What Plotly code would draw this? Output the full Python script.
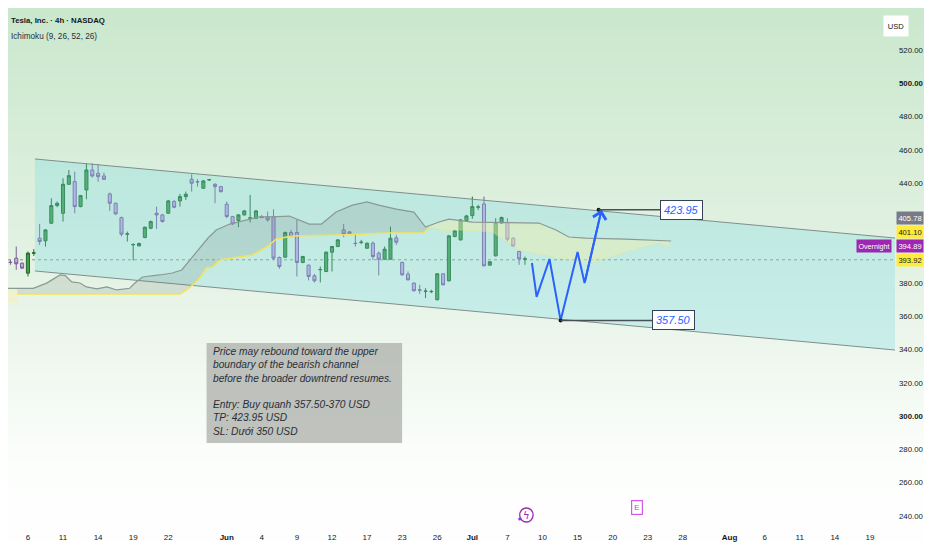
import numpy as np
import plotly.graph_objects as go

# 4h candles, x = bar index counted from the "6" tick (May 6)
bar_start = -5
opens = [394.9, 389.9, 392.5, 394.9, 391.9, 385.9, 397.9, 406.9, 405.3, 415.9,
         426.5, 421.9, 439.3, 440.9, 425.9, 435.9, 447.9, 445.9, 444.3, 433.5,
         427.9, 419.3, 409.3, 402.9, 402.3, 407.3, 412.9, 421.9, 420.9, 421.9,
         428.9, 429.3, 431.9, 442.3, 440.9, 436.9, 441.9, 439.3, 437.9, 427.3,
         419.9, 417.5, 420.9, 418.9, 418.9, 419.9, 419.9, 419.9, 395.3, 395.5,
         410.3, 410.3, 392.3, 390.7, 384.3, 387.9, 386.9, 398.5, 401.9, 411.9,
         410.7, 403.9, 404.3, 400.9, 403.9, 397.9, 394.3, 394.3, 407.1, 392.3,
         385.3, 379.9, 375.9, 374.9, 374.7, 369.9, 385.5, 381.3, 407.9, 405.9,
         417.5, 420.5, 425.5, 427.5, 390.7, 396.3, 415.9, 416.3, 406.9, 398.9,
         394.3]
highs = [395.9, 392.9, 393.9, 401.9, 392.3, 398.9, 400.3, 415.5, 412.3, 430.9,
         428.9, 442.9, 447.9, 446.9, 432.9, 451.9, 451.9, 451.5, 446.3, 434.3,
         428.3, 419.9, 410.9, 403.9, 404.3, 413.9, 417.5, 425.9, 421.5, 429.9,
         429.9, 433.5, 434.9, 445.3, 442.3, 441.9, 442.5, 439.9, 438.3, 428.9,
         420.3, 421.3, 423.9, 432.9, 423.9, 420.9, 422.9, 424.3, 395.9, 410.9,
         411.9, 417.9, 396.3, 391.1, 385.5, 389.9, 398.9, 402.3, 406.3, 415.5,
         411.1, 408.9, 405.9, 404.3, 404.9, 398.9, 401.9, 413.9, 408.9, 392.9,
         386.9, 380.3, 378.9, 376.9, 375.9, 385.9, 385.9, 408.7, 411.9, 418.3,
         420.9, 431.9, 426.9, 431.9, 393.1, 418.9, 419.9, 418.9, 407.5, 399.3,
         395.9]
lows = [389.9, 384.9, 390.9, 387.9, 388.3, 383.9, 396.3, 402.9, 401.9, 415.5,
        425.5, 416.9, 438.9, 421.9, 425.5, 430.3, 443.3, 440.9, 441.9, 423.3,
        420.9, 407.9, 404.9, 393.5, 401.9, 406.9, 412.3, 412.5, 416.3, 421.5,
        424.9, 425.9, 429.9, 434.9, 437.9, 436.5, 441.3, 427.9, 434.3, 418.9,
        414.9, 413.5, 420.5, 416.3, 418.5, 418.9, 416.9, 393.9, 388.5, 395.1,
        407.5, 383.9, 391.9, 381.5, 380.3, 380.3, 386.5, 386.9, 401.5, 407.5,
        409.1, 401.9, 403.3, 400.5, 393.9, 384.5, 393.9, 393.9, 402.9, 384.3,
        381.5, 374.9, 373.5, 370.9, 373.9, 369.5, 378.5, 380.9, 407.5, 405.5,
        417.1, 418.5, 423.9, 389.9, 390.3, 395.9, 415.5, 404.9, 401.9, 390.9,
        390.9]
closes = [390.9, 392.5, 392.3, 391.5, 388.9, 397.9, 398.1, 404.9, 411.9, 426.5,
          427.9, 439.3, 444.5, 425.9, 432.5, 447.9, 444.3, 443.9, 442.3, 427.9,
          421.5, 409.3, 409.5, 403.1, 403.7, 413.5, 416.9, 420.9, 416.9, 429.3,
          425.5, 431.9, 433.3, 439.9, 440.7, 441.3, 442.1, 437.9, 434.9, 419.9,
          415.5, 420.9, 423.3, 419.1, 423.3, 419.3, 417.9, 394.9, 389.9, 410.3,
          407.9, 392.3, 395.9, 383.9, 381.3, 388.1, 398.5, 401.9, 405.9, 409.3,
          409.5, 403.7, 404.5, 403.9, 395.9, 394.3, 400.3, 406.9, 404.5, 384.9,
          381.9, 375.3, 375.7, 375.1, 374.9, 385.5, 378.9, 408.3, 411.3, 417.9,
          420.3, 425.9, 425.7, 390.3, 392.7, 416.3, 419.3, 406.3, 402.3, 394.5,
          394.5]
bars = list(range(bar_start, bar_start + len(opens)))

tick_pos = [0, 6, 12, 18, 24, 34, 40, 46, 52, 58, 64, 70, 76, 82, 88, 94, 100,
            106, 112, 120, 126, 132, 138, 144]
tick_text = ["6", "11", "14", "19", "22", "<b>Jun</b>", "4", "9", "12", "17", "23",
             "26", "<b>Jul</b>", "7", "10", "15", "20", "23", "28", "<b>Aug</b>",
             "6", "11", "14", "19"]
price_ticks = list(range(240, 521, 20))
price_text = [("<b>%.2f</b>" if p % 100 == 0 else "%.2f") % p for p in price_ticks]

# bearish channel drawing
chan_x = [1.2, 148.3]
chan_top = [454.5, 407.0]
chan_bot = [387.2, 339.7]

# ichimoku cloud: upper (grey) edge and lower edge in three pieces
span_b_x = [-4.8, 0.9, 3.2, 5.5, 6.4, 7.5, 8.9, 10.0, 11.8, 13.5, 15.2, 17.4, 18.3,
            19.6, 22.5, 24.7, 26.3, 28.0, 29.4, 30.8, 32.2, 34.5, 39.6, 41.8, 44.7,
            46.4, 48.1, 50.2, 52.7, 55.5, 58.0, 60.0, 63.0, 66.0, 68.0, 70.3, 72.0,
            76.0, 87.4, 90.3, 92.5, 95.4, 102.2, 110.0]
span_b = [376.8, 376.8, 379.9, 384.8, 384.4, 380.6, 380.0, 377.6, 376.4, 377.6, 375.8,
          376.8, 380.0, 383.6, 384.8, 386.0, 387.8, 395.0, 401.6, 407.0, 411.8, 415.4,
          419.7, 419.7, 420.2, 417.8, 415.4, 415.4, 422.6, 426.8, 428.7, 426.8, 424.4,
          422.6, 413.6, 416.6, 418.4, 416.6, 416.0, 411.8, 407.6, 407.0, 406.4, 405.2]
span_a1_x = [-4.8, -1.8]
span_a1 = [368.0, 368.0]
span_a2_x = [-1.8, 26.0, 27.1, 28.2, 29.4, 30.5, 31.6, 32.8, 35.0, 38.4, 40.8, 42.5,
             45.2, 53.2, 61.8, 67.7, 68.6]
span_a2 = [373.4, 373.4, 375.8, 378.8, 383.0, 389.0, 389.6, 393.8, 395.0, 396.8,
           401.6, 406.4, 408.2, 408.8, 410.0, 410.0, 413.6]
span_a3_x = [68.6, 71.0, 73.7, 79.4, 84.0, 90.8, 96.4, 102.2, 107.8, 109.6]
span_a3 = [413.6, 411.5, 411.8, 410.6, 399.8, 395.0, 392.0, 398.6, 404.0, 401.6]

# projected path
path_x = [86.2, 87.0, 89.2, 91.1, 94.0, 95.2, 98.1]
path_y = [392.0, 371.6, 394.4, 357.5, 398.6, 380.0, 423.95]
tp_x, tp_price = 97.6, 423.95
entry_x, entry_price = 91.1, 357.50
last_price = 393.92

# right-scale labels: (text, display price, bg, font colour)
scale_labels = [("405.78", 419.0, "#787b86", "white"),
                ("401.10", 410.6, "#ffeb3b", "#131722"),
                ("394.89", 402.2, "#9c27b0", "white"),
                ("393.92", 393.8, "#ffeb3b", "#131722")]

FONT = "Liberation Sans, Arial, sans-serif"
# the page body adds an 8px margin all round, so keep the figure inside the window
OX, OY = 8, 8
W, H = 916, 534
PW, PH = 889, 517


def sx(x):  # window pixel -> paper x
    return (x - OX) / PW


def sy(y):  # window pixel -> paper y
    return 1 - (y - OY) / PH


fig = go.Figure()

# background gradient
stops = [(0.0, (202, 232, 205)), (0.5, (229, 243, 229)), (0.85, (252, 254, 252)), (1.0, (255, 255, 255))]
n_bands = 60
y_top, y_bot = 1.0, -(H - PH) / PH
for k in range(n_bands):
    t = (k + 0.5) / n_bands
    for (t0, c0), (t1, c1) in zip(stops[:-1], stops[1:]):
        if t0 <= t <= t1:
            f = (t - t0) / (t1 - t0)
            c = tuple(int(a + (b - a) * f) for a, b in zip(c0, c1))
            break
    fig.add_shape(type="rect", xref="paper", yref="paper", x0=-0.01, x1=W / PW + 0.01,
                  y0=y_top - (y_top - y_bot) * (k + 1) / n_bands - 0.001,
                  y1=y_top - (y_top - y_bot) * k / n_bands,
                  fillcolor="rgb(%d,%d,%d)" % c, line=dict(width=0), layer="below")

# channel
fig.add_trace(go.Scatter(x=chan_x + chan_x[::-1], y=chan_top + chan_bot[::-1], fill="toself",
                         fillcolor="rgba(120,220,228,0.30)", line=dict(width=0),
                         mode="lines", hoverinfo="skip"))
for edge in (chan_top, chan_bot):
    fig.add_trace(go.Scatter(x=chan_x, y=edge, mode="lines",
                             line=dict(color="#7f8f8c", width=1), hoverinfo="skip"))


def cloud_piece(lx, ly, color):
    x0, x1 = lx[0], lx[-1]
    ux = [x0] + [x for x in span_b_x if x0 < x < x1] + [x1]
    uy = list(np.interp(ux, span_b_x, span_b))
    fig.add_trace(go.Scatter(x=ux + lx[::-1], y=uy + ly[::-1], fill="toself", fillcolor=color,
                             line=dict(width=0), mode="lines", hoverinfo="skip"))


cloud_piece(span_a1_x, span_a1, "rgba(252,240,165,0.40)")
cloud_piece(span_a2_x, span_a2, "rgba(105,120,115,0.17)")
cloud_piece(span_a3_x, span_a3, "rgba(250,240,165,0.38)")
fig.add_trace(go.Scatter(x=span_a2_x, y=span_a2, mode="lines",
                         line=dict(color="#f4e35a", width=1.5), hoverinfo="skip"))
fig.add_trace(go.Scatter(x=span_a3_x, y=span_a3, mode="lines",
                         line=dict(color="rgba(244,227,90,0.3)", width=1), hoverinfo="skip"))
fig.add_trace(go.Scatter(x=span_b_x, y=span_b, mode="lines",
                         line=dict(color="#8b9994", width=1.2), hoverinfo="skip"))

# last price dotted line
fig.add_shape(type="line", xref="paper", yref="y", x0=0, x1=1, y0=last_price, y1=last_price,
              line=dict(color="#8d9291", width=1, dash="dot"), layer="below")

fig.add_trace(go.Candlestick(
    x=bars, open=opens, high=highs, low=lows, close=closes,
    increasing=dict(line=dict(color="#22692a", width=1), fillcolor="#43a047"),
    decreasing=dict(line=dict(color="#7d5e98", width=1), fillcolor="#c9a7e6"),
    whiskerwidth=0, hoverinfo="skip"))

# projection
fig.add_trace(go.Scatter(x=path_x, y=path_y, mode="lines",
                         line=dict(color="#2962ff", width=2), hoverinfo="skip"))
fig.add_annotation(x=path_x[-1], y=path_y[-1], ax=path_x[-2], ay=path_y[-2],
                   xref="x", yref="y", axref="x", ayref="y", text="", showarrow=True,
                   arrowhead=4, arrowsize=1.3, arrowwidth=2, arrowcolor="#2962ff")
fig.add_trace(go.Scatter(x=[tp_x, entry_x], y=[tp_price, entry_price], mode="markers",
                         marker=dict(color="#131722", size=4), hoverinfo="skip"))
for px_, pr_, lx_ in ((tp_x, tp_price, 111.8), (entry_x, entry_price, 110.4)):
    fig.add_annotation(x=px_, y=pr_, ax=lx_, ay=pr_, xref="x", yref="y", axref="x", ayref="y",
                       text="<i>%.2f</i>" % pr_, showarrow=True, arrowhead=0, arrowwidth=1.5,
                       arrowcolor="#4a4f55", standoff=0, startstandoff=0,
                       font=dict(family=FONT, size=11, color="#2962ff"),
                       bgcolor="white", bordercolor="#34425a", borderwidth=1, borderpad=3)

# note box
fig.add_shape(type="rect", xref="paper", yref="paper", x0=sx(207), x1=sx(403),
              y0=sy(443), y1=sy(343), fillcolor="rgba(178,180,176,0.82)",
              line=dict(width=0), layer="above")
note = ("Price may rebound toward the upper<br>boundary of the bearish channel<br>"
        "before the broader downtrend resumes.<br><br>Entry: Buy quanh 357.50-370 USD<br>"
        "TP: 423.95 USD<br>SL: Dưới 350 USD")
fig.add_annotation(xref="paper", yref="paper", x=sx(211), y=sy(344), xanchor="left",
                   yanchor="top", align="left", showarrow=False, text="<i>" + note + "</i>",
                   font=dict(family=FONT, size=10.2, color="#2a2e39"))

# header
fig.add_annotation(xref="paper", yref="paper", x=sx(9), y=sy(14), xanchor="left",
                   showarrow=False, text="<b>Tesla, Inc. · 4h · NASDAQ</b>",
                   font=dict(family=FONT, size=7.8, color="#131722"))
fig.add_annotation(xref="paper", yref="paper", x=sx(9), y=sy(30), xanchor="left",
                   showarrow=False, text="Ichimoku (9, 26, 52, 26)",
                   font=dict(family=FONT, size=8.2, color="#2a2e39"))
fig.add_annotation(xref="paper", yref="paper", x=sx(911), y=sy(15), showarrow=False,
                   text="USD", bgcolor="white", width=22, height=18,
                   font=dict(family=FONT, size=7.6, color="#131722"))

# right-scale price labels
for txt, yp, bg, fc in scale_labels:
    fig.add_annotation(xref="paper", yref="y", x=sx(898), y=yp, xanchor="left", showarrow=False,
                       text=txt, bgcolor=bg, width=26, height=12, borderpad=0,
                       font=dict(family=FONT, size=7.6, color=fc))
fig.add_annotation(xref="paper", yref="y", x=sx(894), y=scale_labels[2][1], xanchor="right",
                   showarrow=False, text="Overnight", bgcolor="#9c27b0", width=34, height=12,
                   borderpad=0, font=dict(family=FONT, size=7.2, color="white"))

# event markers along the time scale
fig.add_shape(type="circle", xref="x", yref="paper", x0=84.1, x1=86.4,
              y0=sy(522), y1=sy(508), line=dict(color="#9c27b0", width=1.3), layer="above")
fig.add_shape(type="circle", xref="x", yref="paper", x0=83.85, x1=84.35,
              y0=sy(520.5), y1=sy(517.5), fillcolor="#7b3fe4", line=dict(width=0), layer="above")
fig.add_annotation(xref="x", yref="paper", x=85.25, y=sy(515), showarrow=False, text="ϟ",
                   yanchor="middle", font=dict(family="DejaVu Sans", size=10, color="#9c27b0"))
fig.add_annotation(xref="x", yref="paper", x=104.2, y=sy(515), showarrow=False, text="E",
                   bordercolor="#d35ae6", borderwidth=1.2, borderpad=2, bgcolor="rgba(255,255,255,0.6)",
                   font=dict(family=FONT, size=8, color="#c23fd8"))

fig.update_layout(
    width=W, height=H, margin=dict(l=0, r=W - PW, t=0, b=H - PH),
    paper_bgcolor="white", plot_bgcolor="rgba(0,0,0,0)", showlegend=False, boxgap=0.25,
    xaxis=dict(range=[-3.41, 148.29], tickvals=tick_pos, ticktext=tick_text, showgrid=False,
               zeroline=False, showline=False, ticks="", rangeslider=dict(visible=False),
               ticklabelstandoff=6, tickfont=dict(family=FONT, size=8, color="#131722")),
    yaxis=dict(range=[234.54, 545.24], side="right", tickvals=price_ticks, ticktext=price_text,
               showgrid=False, zeroline=False, showline=False, ticks="", ticklabelstandoff=3,
               tickfont=dict(family=FONT, size=7.8, color="#131722")),
)

fig.write_html("out.html")
